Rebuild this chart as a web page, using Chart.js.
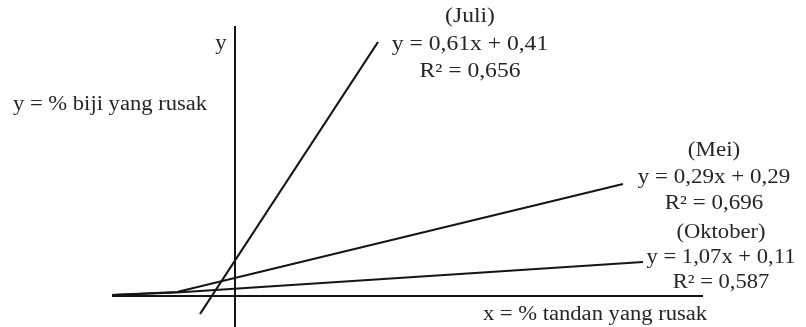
<!DOCTYPE html>
<html><head><meta charset="utf-8">
<script src="https://cdn.jsdelivr.net/npm/chart.js@4/dist/chart.umd.min.js"></script>
<style>html,body{margin:0;padding:0;background:#fff}#wrap{width:806px;height:327px;position:relative}</style>
</head><body><div id="wrap"><canvas id="c" width="806" height="327"></canvas></div>
<script>
// Schematic diagram values (arbitrary units, origin at the axes crossing)
const axisXLine   = [{x:-12.3, y:0}, {x:46.8, y:0}];
const axisYLine   = [{x:0, y:-3.1}, {x:0, y:27.0}];
const juliLine    = [{x:-3.5, y:-1.8}, {x:14.3, y:25.4}];
const meiLine     = [{x:-12.3, y:0.1}, {x:-5.8, y:0.4}, {x:38.8, y:11.2}];
const oktoberLine = [{x:-12.3, y:0.1}, {x:-5.8, y:0.35}, {x:40.8, y:3.4}];

const juliText    = ['(Juli)', 'y = 0,61x + 0,41', 'R² = 0,656'];
const meiText     = ['(Mei)', 'y = 0,29x + 0,29', 'R² = 0,696'];
const oktoberText = ['(Oktober)', 'y = 1,07x + 0,11', 'R² = 0,587'];
const axisTitleY  = 'y = % biji yang rusak';
const axisTitleX  = 'x = % tandan yang rusak';
const axisLetterY = 'y';

// label placements (data units)
const labelPlacements = [
  {lines: juliText,     x: 23.5,  y: 27.9, step: 2.75, align: 'center', sx: 1.18},
  {lines: meiText,      x: 47.9,  y: 14.5, step: 2.65, align: 'center', sx: 1.15},
  {lines: oktoberText,  x: 48.6,  y: 6.3,  step: 2.5,  align: 'center', sx: 1.13},
  {lines: [axisTitleY], x: -22.2, y: 19.1, step: 0,    align: 'left',   sx: 1.13},
  {lines: [axisTitleX], x: 36.0,  y: -1.9, step: 0,    align: 'center', sx: 1.13},
  {lines: [axisLetterY],x: -1.4,  y: 25.2, step: 0,    align: 'center', sx: 1.13}
];

const textPlugin = {
  id: 'texts',
  afterDraw(chart) {
    const {ctx, scales:{x, y}} = chart;
    ctx.save();
    ctx.fillStyle = '#262626';
    ctx.font = '20px "Liberation Serif", serif';
    ctx.textBaseline = 'middle';
    labelPlacements.forEach(p => {
      ctx.textAlign = p.align;
      p.lines.forEach((t, i) => {
        ctx.save();
        ctx.translate(x.getPixelForValue(p.x), y.getPixelForValue(p.y - i * p.step));
        ctx.scale(p.sx, 1);
        ctx.fillText(t, 0, 0);
        ctx.restore();
      });
    });
    ctx.restore();
  }
};

const mk = (data, w) => ({data, showLine:true, borderColor:'#151515', borderWidth:w, pointRadius:0, fill:false, tension:0});

new Chart(document.getElementById('c'), {
  type: 'scatter',
  data: { datasets: [
    mk(axisXLine, 2), mk(axisYLine, 2), mk(juliLine, 2.2), mk(meiLine, 2.2), mk(oktoberLine, 2.2)
  ]},
  options: {
    responsive: false, animation: false,
    layout: {padding: 0},
    plugins: {legend:{display:false}, tooltip:{enabled:false}},
    scales: {
      x: {type:'linear', min:-23.5, max:57.1, display:false},
      y: {type:'linear', min:-3.1, max:29.6, display:false}
    }
  },
  plugins: [textPlugin]
});
</script>
</body></html>
